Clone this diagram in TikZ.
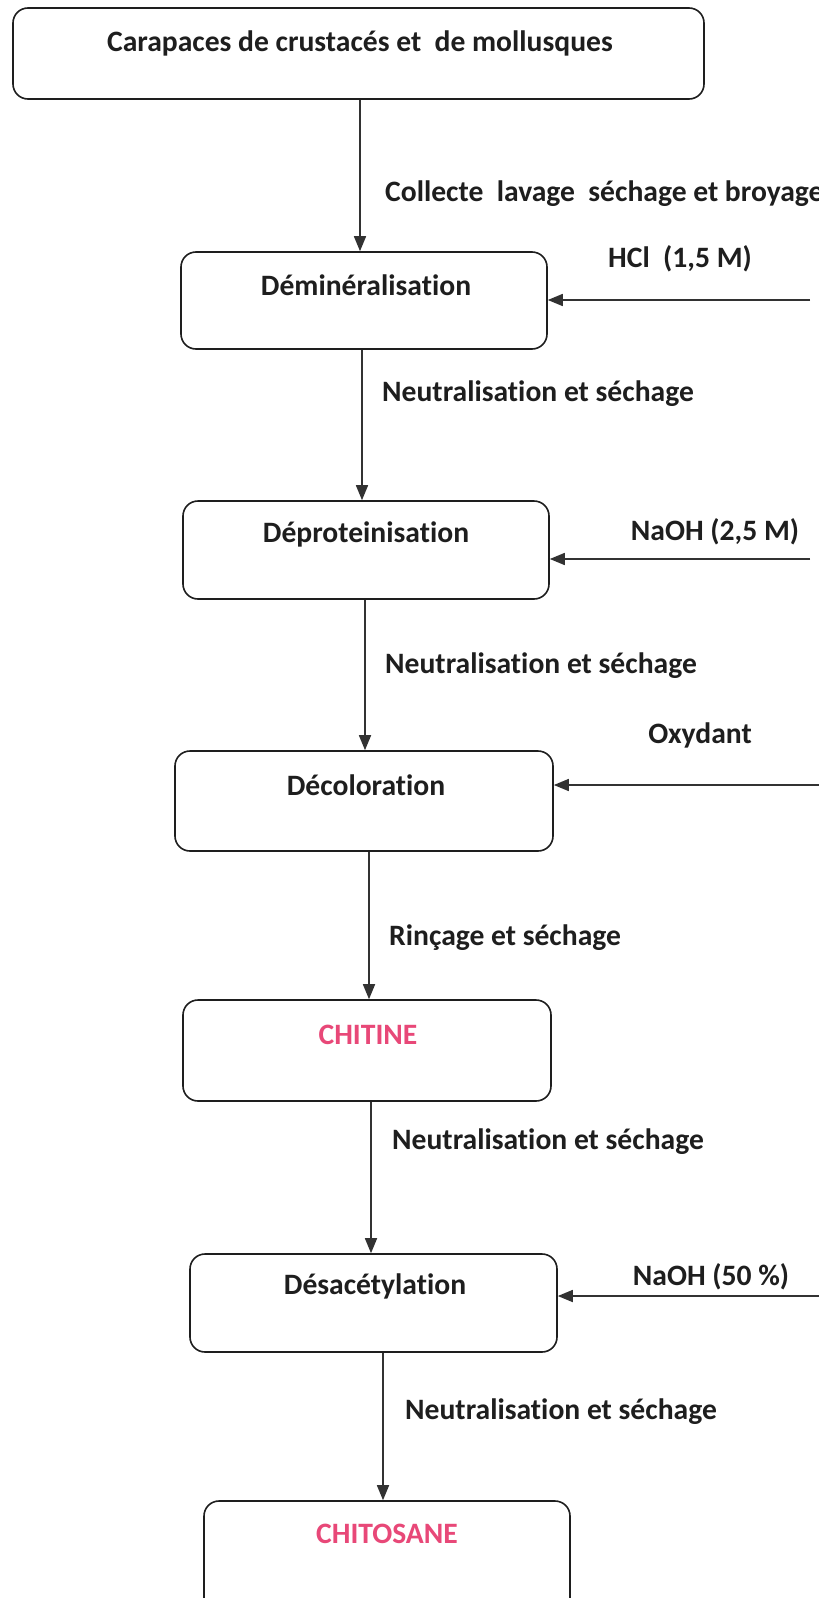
\documentclass[tikz,border=0pt]{standalone}
\usepackage{fontspec}
\setmainfont[Ligatures=NoCommon]{Carlito}
\usetikzlibrary{arrows.meta}
\definecolor{ink}{RGB}{30,30,30}
\definecolor{linec}{RGB}{50,50,50}
\definecolor{pinkc}{RGB}{232,72,120}
\begin{document}
\begin{tikzpicture}[x=1pt,y=-1pt,
  procbox/.style={draw=ink, line width=1.6pt, rounded corners=15pt, inner sep=0pt},
  boxtxt/.style={font=\fontsize{29.6}{32}\selectfont\bfseries, text=ink, inner sep=0pt},
  lbl/.style={font=\fontsize{29.6}{32}\selectfont\bfseries, text=ink, inner sep=0pt},
  pinktxt/.style={font=\fontsize{29.6}{32}\selectfont\bfseries, text=pinkc, inner sep=0pt},
  arr/.style={draw=linec, line width=1.6pt, -{Triangle[length=15pt,width=12pt]}}]
\useasboundingbox (0,0) rectangle (819,1598);
\fill[white] (0,0) rectangle (819,1598);
% boxes
\node[procbox, minimum width=691pt, minimum height=91pt] (b1) at (358.5,53.5) {};
\node[procbox, minimum width=366pt, minimum height=97pt] (b2) at (364,300.5) {};
\node[procbox, minimum width=366pt, minimum height=98pt] (b3) at (366,550) {};
\node[procbox, minimum width=378pt, minimum height=100pt] (b4) at (364,801) {};
\node[procbox, minimum width=368pt, minimum height=101pt] (b5) at (367,1050.5) {};
\node[procbox, minimum width=367pt, minimum height=98pt] (b6) at (373.5,1303) {};
\node[procbox, minimum width=366pt, minimum height=112pt] (b7) at (387,1557) {};
% box texts
\node[boxtxt] (t1) at (360,43) {Carapaces de crustacés et\ \ de mollusques};
\node[boxtxt] (t2) at (366,285) {Déminéralisation};
\node[boxtxt] (t3) at (366,534) {Déproteinisation};
\node[boxtxt] (t4) at (366,785) {Décoloration};
\node[pinktxt] (t5) at (368,1035) {CHITINE};
\node[boxtxt] (t6) at (375,1286) {Désacétylation};
\node[pinktxt] (t7) at (387,1534) {CHITOSANE};
% step labels
\node[lbl, anchor=west] (l1) at (385,194) {Collecte\ \ lavage\ \ séchage et broyage};
\node[lbl, anchor=west] (l2) at (382,394) {Neutralisation et séchage};
\node[lbl, anchor=west] (l3) at (385,666) {Neutralisation et séchage};
\node[lbl, anchor=west] (l4) at (389,938) {Rinçage et séchage};
\node[lbl, anchor=west] (l5) at (392,1142) {Neutralisation et séchage};
\node[lbl, anchor=west] (l6) at (405,1412) {Neutralisation et séchage};
% reagent labels
\node[lbl] (r1t) at (680,259) {HCl\ \ (1,5 M)};
\node[lbl] (r2t) at (715,532) {NaOH (2,5 M)};
\node[lbl] (r3t) at (700,735) {Oxydant};
\node[lbl] (r4t) at (711,1277) {NaOH (50 \%)};
% arrow columns
\coordinate (a1) at (360,0);
\coordinate (a2) at (362,0);
\coordinate (a3) at (365,0);
\coordinate (a4) at (369,0);
\coordinate (a5) at (371,0);
\coordinate (a6) at (383,0);
\draw[arr] (b1.south -| a1) -- (b2.north -| a1);
\draw[arr] (b2.south -| a2) -- (b3.north -| a2);
\draw[arr] (b3.south -| a3) -- (b4.north -| a3);
\draw[arr] (b4.south -| a4) -- (b5.north -| a4);
\draw[arr] (b5.south -| a5) -- (b6.north -| a5);
\draw[arr] (b6.south -| a6) -- (b7.north -| a6);
% reagent arrows
\coordinate (r1) at (810,300);
\coordinate (r2) at (810,559);
\coordinate (r3) at (819,785);
\coordinate (r4) at (819,1296);
\draw[arr] (r1) -- (b2.east |- r1);
\draw[arr] (r2) -- (b3.east |- r2);
\draw[arr] (r3) -- (b4.east |- r3);
\draw[arr] (r4) -- (b6.east |- r4);
\end{tikzpicture}
\end{document}
